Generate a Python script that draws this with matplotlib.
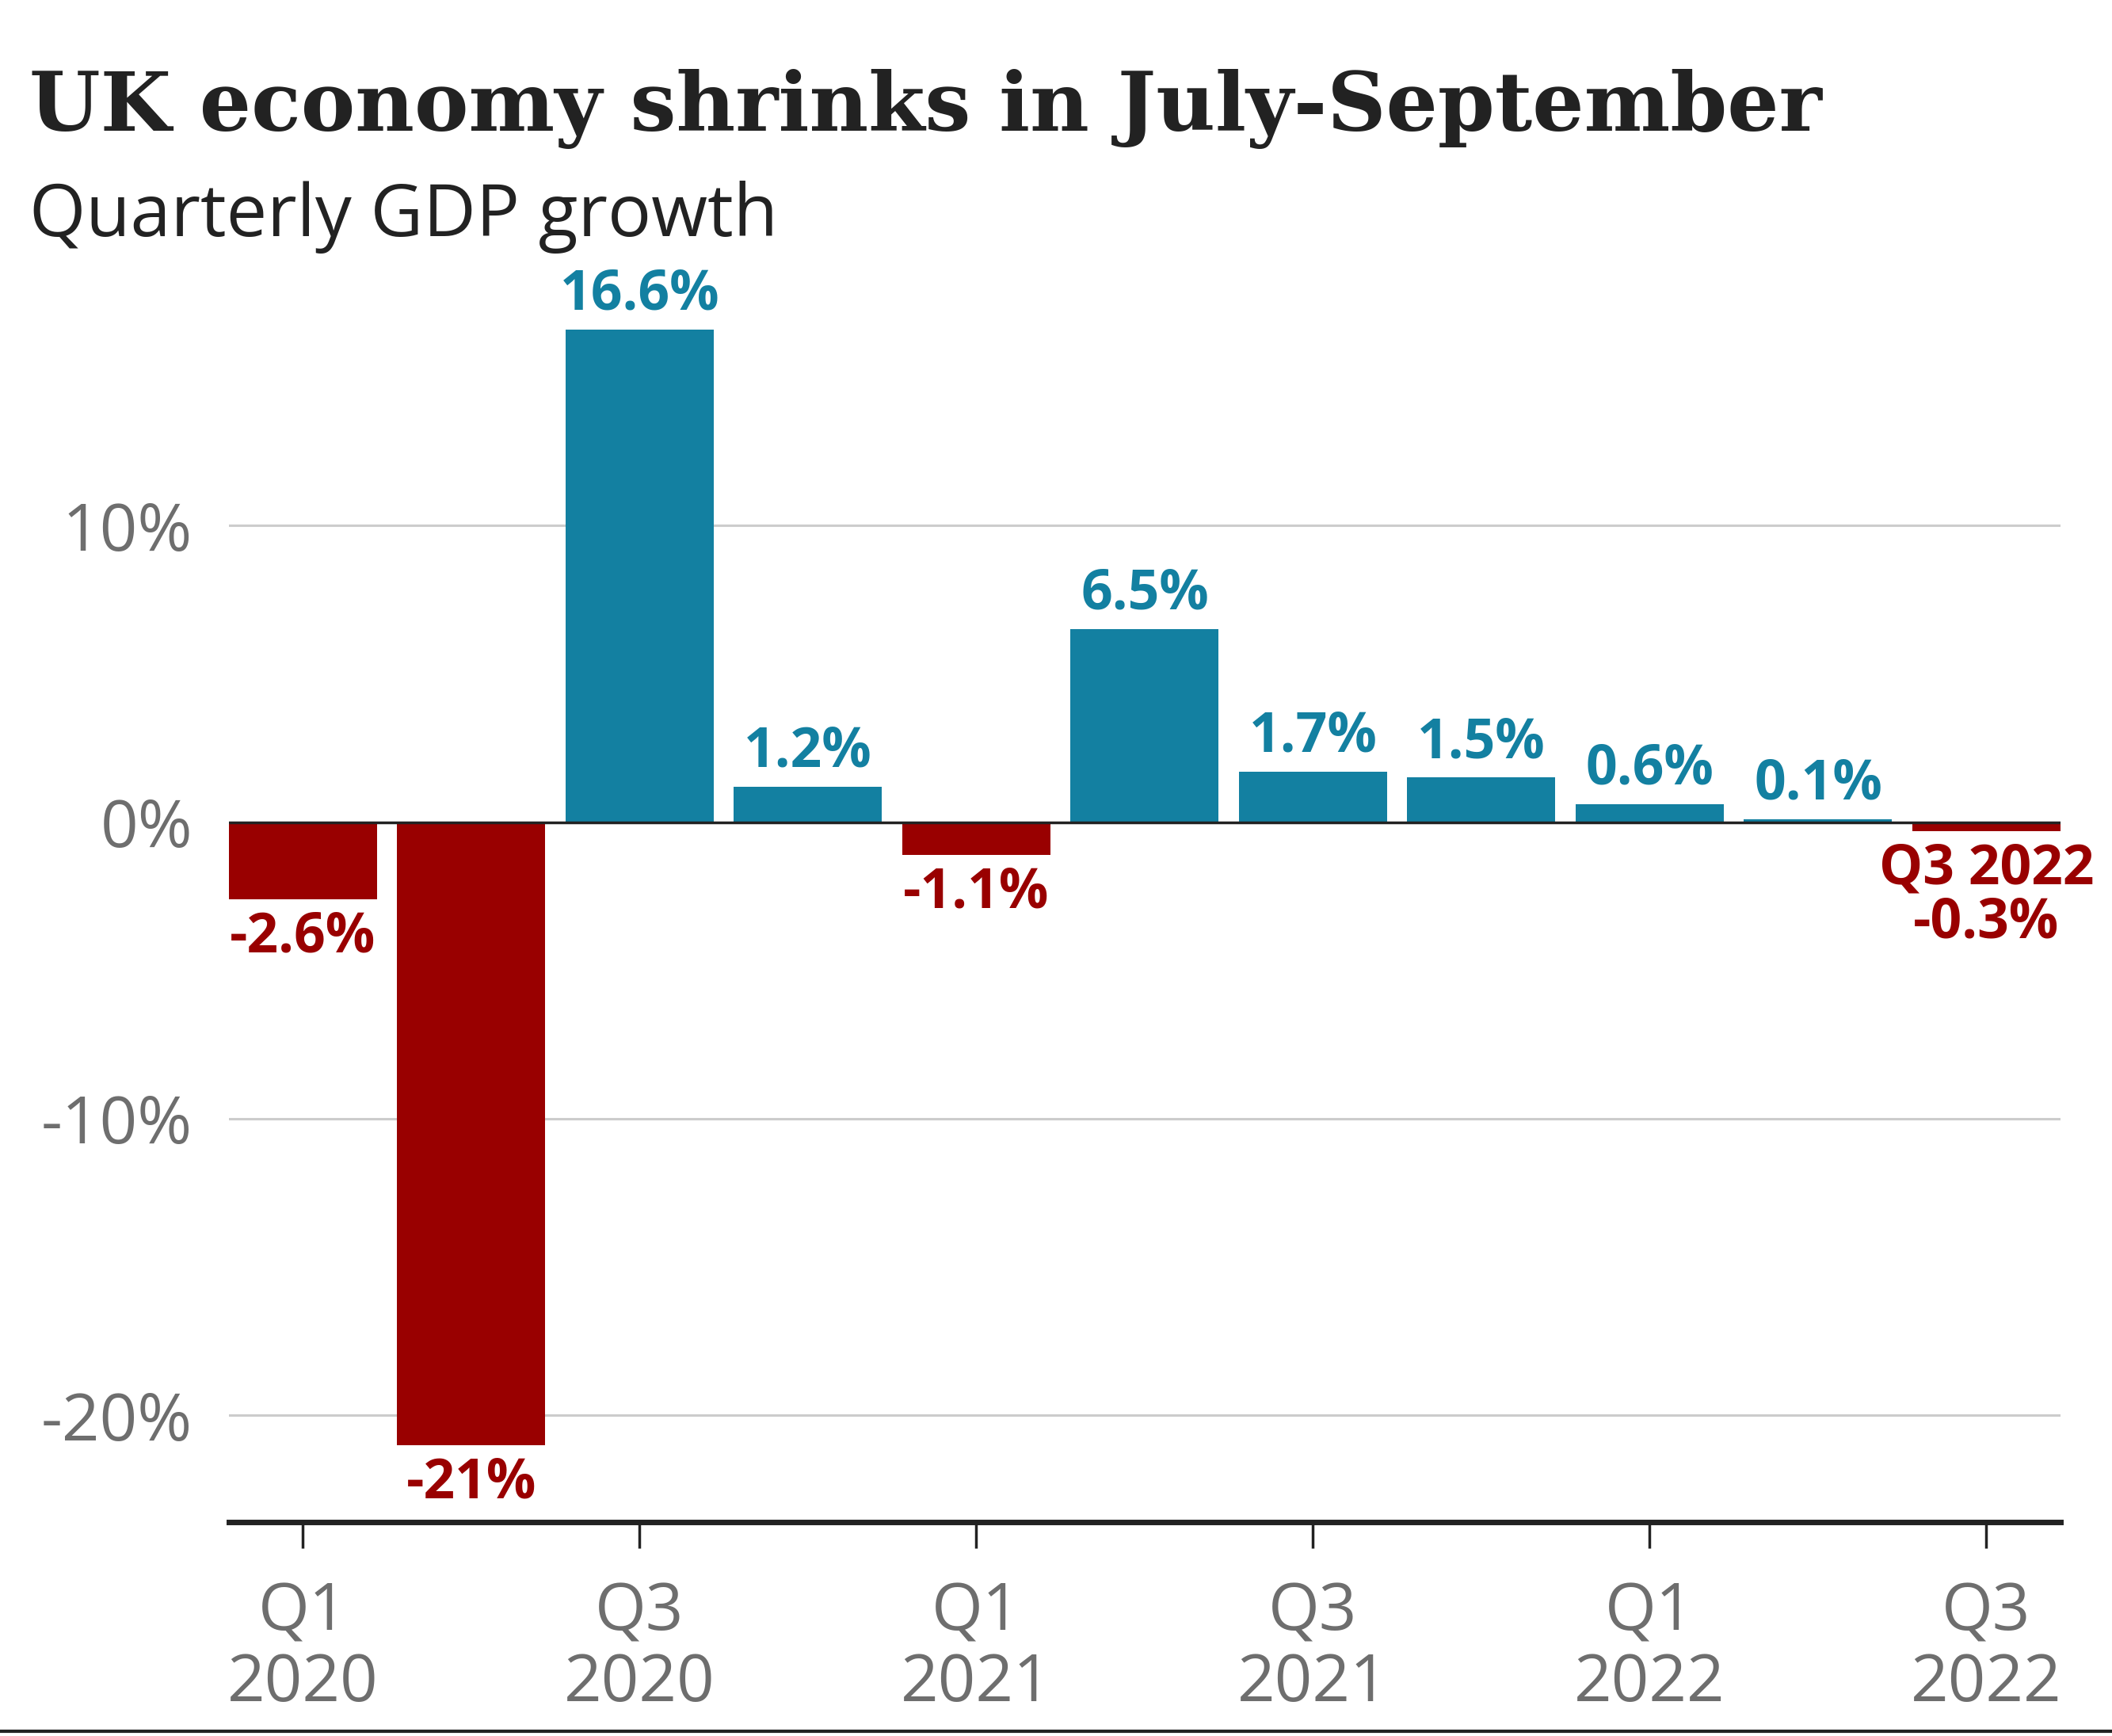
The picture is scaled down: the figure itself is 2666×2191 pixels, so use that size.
import matplotlib
matplotlib.use("Agg")
from matplotlib import pyplot as plt
from matplotlib.lines import Line2D

quarters = ["Q1 2020", "Q2 2020", "Q3 2020", "Q4 2020", "Q1 2021", "Q2 2021",
            "Q3 2021", "Q4 2021", "Q1 2022", "Q2 2022", "Q3 2022"]
growth = [-2.6, -21.0, 16.6, 1.2, -1.1, 6.5, 1.7, 1.5, 0.6, 0.1, -0.3]
value_labels = ["-2.6%", "-21%", "16.6%", "1.2%", "-1.1%", "6.5%", "1.7%",
                "1.5%", "0.6%", "0.1%", "Q3 2022\n-0.3%"]
tick_idx = [0, 2, 4, 6, 8, 10]
tick_labels = ["Q1\n2020", "Q3\n2020", "Q1\n2021", "Q3\n2021", "Q1\n2022", "Q3\n2022"]
y_ticks = [-20, -10, 0, 10]
y_tick_labels = ["-20%", "-10%", "0%", "10%"]

BLUE = "#1380a1"
RED = "#990000"
GREY = "#6e6e6e"
SANS = ["Open Sans", "DejaVu Sans"]

fig = plt.figure(figsize=(26.66, 21.91), dpi=100)
ax = fig.add_axes([0.1084, 0.1232, 0.9756 - 0.1084, 0.8442 - 0.1232])

x = list(range(len(growth)))
colors = [BLUE if v >= 0 else RED for v in growth]
ax.bar(x, growth, width=0.88, color=colors, zorder=3)

ax.set_xlim(-0.44, 10.44)
ax.set_ylim(-23.6, 18.6)

# grid lines
for t in y_ticks:
    if t != 0:
        ax.axhline(t, color="#cccccc", lw=2.2, zorder=1)
ax.axhline(0, color="#222222", lw=2.5, zorder=4)

ax.set_yticks(y_ticks)
ax.set_yticklabels(y_tick_labels, fontsize=60, color=GREY, family=SANS)
ax.tick_params(axis="y", length=0, pad=33)

ax.set_xticks(tick_idx)
ax.set_xticklabels(tick_labels, fontsize=60, color=GREY, family=SANS, linespacing=1.12)
ax.tick_params(axis="x", length=24, width=2.5, color="#222222", pad=29)

for side in ["top", "right", "left"]:
    ax.spines[side].set_visible(False)
ax.spines["bottom"].set_linewidth(5)
ax.spines["bottom"].set_color("#222222")

for i, (v, lab) in enumerate(zip(growth, value_labels)):
    c = BLUE if v >= 0 else RED
    if v >= 0:
        ax.annotate(lab, (i, v), xytext=(0, 6), textcoords="offset points",
                    ha="center", va="bottom", fontsize=50, fontweight="bold",
                    color=c, family=SANS, zorder=5)
    else:
        ax.annotate(lab, (i, v), xytext=(0, -10), textcoords="offset points",
                    ha="center", va="top", fontsize=50, fontweight="bold",
                    color=c, family=SANS, linespacing=0.95, zorder=5)

fig.text(0.014, 1 - 165 / 2191, "UK economy shrinks in July-September",
         fontsize=74, fontweight="bold", family=["DejaVu Serif"], color="#222222",
         ha="left", va="baseline")
fig.text(0.014, 1 - 298 / 2191, "Quarterly GDP growth",
         fontsize=66, family=SANS, color="#222222", ha="left", va="baseline")

fig.add_artist(Line2D([0, 1], [1 - 2185 / 2191] * 2, color="#222222", lw=3,
                      transform=fig.transFigure))

fig.savefig("out.png", dpi=100, facecolor="white")
